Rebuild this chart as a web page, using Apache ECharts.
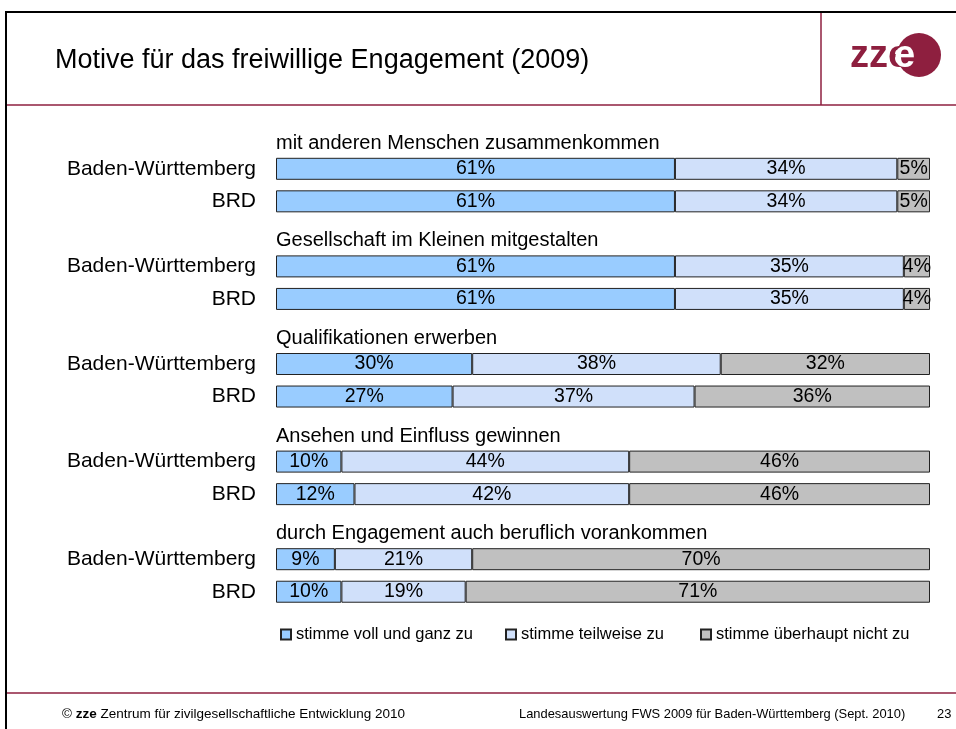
<!DOCTYPE html>
<html>
<head>
<meta charset="utf-8">
<script src="https://cdn.jsdelivr.net/npm/echarts@6/dist/echarts.min.js"></script>
<style>
  html, body { margin: 0; padding: 0; background: #fff; }
  #chart { width: 956px; height: 729px; }
</style>
</head>
<body>
<div id="chart"></div>
<script>
// rows of the chart, top to bottom: a title row, then Baden-Württemberg and BRD
var groupTitles = [
  'mit anderen Menschen zusammenkommen',
  'Gesellschaft im Kleinen mitgestalten',
  'Qualifikationen erwerben',
  'Ansehen und Einfluss gewinnen',
  'durch Engagement auch beruflich vorankommen'
];
var regions = ['Baden-Württemberg', 'BRD'];
var seriesNames = ['stimme voll und ganz zu', 'stimme teilweise zu', 'stimme überhaupt nicht zu'];

// values per group: [BW, BRD]
var vollUndGanz = [[61, 61], [61, 61], [30, 27], [10, 12], [9, 10]];
var teilweise   = [[34, 34], [35, 35], [38, 37], [44, 42], [21, 19]];
var garNicht    = [[5, 5],   [4, 4],   [32, 36], [46, 46], [70, 71]];

var maroon = '#8e1f3f';

// build the category rows
var rows = [];
var titleRows = [];
groupTitles.forEach(function (t) {
  titleRows.push({ name: t, value: [0, rows.length] });
  rows.push('');
  regions.forEach(function (r) { rows.push(r); });
});

function rowData(vals) {
  var out = [];
  vals.forEach(function (pair) {
    out.push('-');
    out.push(pair[0]);
    out.push(pair[1]);
  });
  return out;
}

var colors = ['#99ccff', '#d0e0fa', '#c0c0c0'];
var allVals = [vollUndGanz, teilweise, garNicht];

var barSeries = seriesNames.map(function (n, i) {
  return {
    name: n,
    type: 'bar',
    stack: 'total',
    barWidth: 22,
    data: rowData(allVals[i]),
    itemStyle: { color: colors[i], borderColor: '#222', borderWidth: 1 },
    label: {
      show: true,
      position: 'inside',
      formatter: '{c}%',
      color: '#000',
      fontSize: 19.5,
      fontFamily: 'Liberation Sans'
    },
    emphasis: { disabled: true }
  };
});

var legendLeft = [280, 505, 700];
var legends = seriesNames.map(function (n, i) {
  return {
    data: [n],
    left: legendLeft[i],
    top: 626,
    padding: 0,
    itemWidth: 10,
    itemHeight: 10,
    itemGap: 5,
    icon: 'rect',
    selectedMode: false,
    textStyle: { color: '#000', fontSize: 16.5, fontFamily: 'Liberation Sans' }
  };
});

var myChart = echarts.init(document.getElementById('chart'));

option = {
  animation: false,
  textStyle: { fontFamily: 'Liberation Sans' },
  grid: { left: 276, right: 26, top: 120, height: 488 },
  xAxis: { type: 'value', min: 0, max: 100, show: false },
  yAxis: {
    type: 'category',
    data: rows,
    inverse: true,
    axisLine: { show: false },
    axisTick: { show: false },
    splitLine: { show: false },
    axisLabel: { color: '#000', fontSize: 21, margin: 20, fontFamily: 'Liberation Sans' }
  },
  legend: legends,
  series: barSeries.concat([{
    type: 'scatter',
    data: titleRows,
    symbolSize: 0,
    silent: true,
    itemStyle: { opacity: 1 },
    label: {
      show: true,
      position: 'right',
      distance: 0,
      offset: [0, 7],
      formatter: '{b}',
      color: '#000',
      fontSize: 20,
      fontFamily: 'Liberation Sans'
    }
  }]),
  graphic: [
    // slide frame
    { type: 'line', shape: { x1: 5, y1: 12, x2: 956, y2: 12 }, style: { stroke: '#000', lineWidth: 2 } },
    { type: 'line', shape: { x1: 6, y1: 11, x2: 6, y2: 729 }, style: { stroke: '#000', lineWidth: 2 } },
    { type: 'line', shape: { x1: 7, y1: 105, x2: 956, y2: 105 }, style: { stroke: maroon, lineWidth: 1.5 } },
    { type: 'line', shape: { x1: 821, y1: 13, x2: 821, y2: 105 }, style: { stroke: maroon, lineWidth: 1.5 } },
    { type: 'line', shape: { x1: 7, y1: 693, x2: 956, y2: 693 }, style: { stroke: maroon, lineWidth: 1.5 } },
    // title
    { type: 'text', left: 55, top: 47, style: { text: 'Motive für das freiwillige Engagement (2009)', fill: '#000', fontSize: 27, fontFamily: 'Liberation Sans' } },
    // logo: maroon "zze", circle, then a white "e" that only shows on the circle
    { type: 'text', left: 850, top: 38, style: { text: 'zze', fill: maroon, fontSize: 38, fontWeight: 'bold', fontFamily: 'Liberation Sans' } },
    { type: 'circle', shape: { cx: 919, cy: 55, r: 22 }, style: { fill: maroon } },
    { type: 'text', left: 894, top: 38, z: 10, style: { text: 'e', fill: '#fff', fontSize: 38, fontWeight: 'bold', fontFamily: 'Liberation Sans' } },
    // footer
    { type: 'text', left: 62, top: 707, style: {
        text: '{n|© }{b|zze}{n| Zentrum für zivilgesellschaftliche Entwicklung 2010}',
        rich: {
          n: { fill: '#000', fontSize: 13.5, fontFamily: 'Liberation Sans' },
          b: { fill: '#000', fontSize: 13.5, fontWeight: 'bold', fontFamily: 'Liberation Sans' }
        } } },
    { type: 'text', left: 519, top: 708, style: { text: 'Landesauswertung FWS 2009 für Baden-Württemberg (Sept. 2010)', fill: '#000', fontSize: 12.9, fontFamily: 'Liberation Sans' } },
    { type: 'text', left: 937, top: 708, style: { text: '23', fill: '#000', fontSize: 12.9, fontFamily: 'Liberation Sans' } }
  ]
};

myChart.setOption(option);
</script>
</body>
</html>
